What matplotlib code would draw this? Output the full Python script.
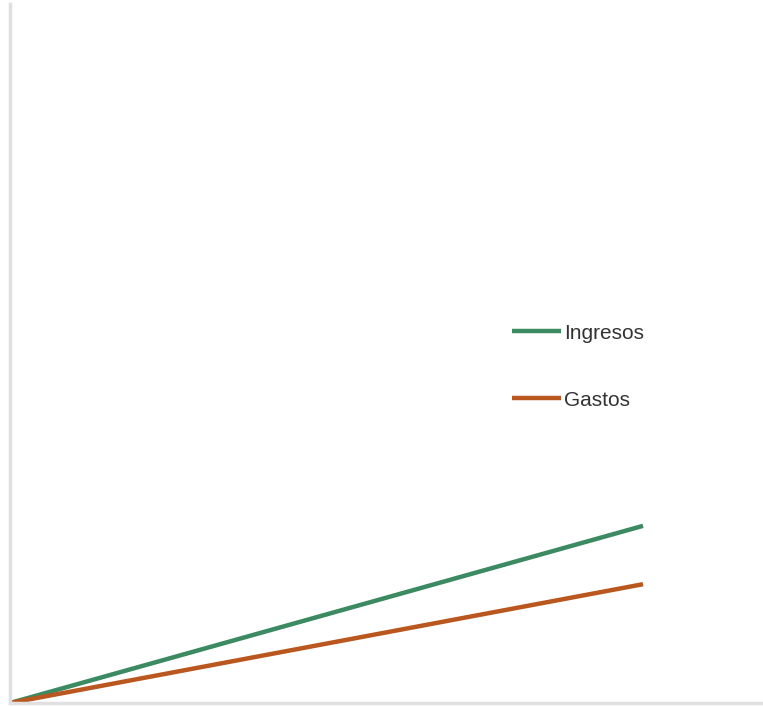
import matplotlib
matplotlib.use("Agg")
import matplotlib.pyplot as plt

# ── Datos ────────────────────────────────────────────────
periodos = [0, 1]
ingresos = [0, 252]
gastos = [0, 169]

series = ["Ingresos", "Gastos"]
colores = ["#3b8a62", "#b9571f"]

plt.rcParams["font.family"] = ["Liberation Sans", "DejaVu Sans"]

fig = plt.figure(figsize=(7.63, 7.07), dpi=100, facecolor="white")
ax = fig.add_axes([10 / 763, 4 / 707, 753 / 763, 699 / 707])

for nombre, valores, color in zip(series, [ingresos, gastos], colores):
    ax.plot(periodos, valores, color=color, linewidth=3.2, label=nombre,
            solid_capstyle="butt")

ax.set_xlim(0, 753 / 633)
ax.set_ylim(0, 1000 * 699 / 703)

for lado in ("top", "right"):
    ax.spines[lado].set_visible(False)
for lado in ("left", "bottom"):
    ax.spines[lado].set_color("#e0e0e0")
    ax.spines[lado].set_linewidth(2.5)
ax.set_xticks([])
ax.set_yticks([])

ax.legend(loc="upper left", bbox_to_anchor=(493 / 763, 1 - 305 / 707),
          bbox_transform=fig.transFigure, frameon=False, fontsize=15,
          handlelength=2.35, handletextpad=0.15, labelspacing=2.3,
          labelcolor="#333333")

fig.savefig("out.png", dpi=100, facecolor="white")
